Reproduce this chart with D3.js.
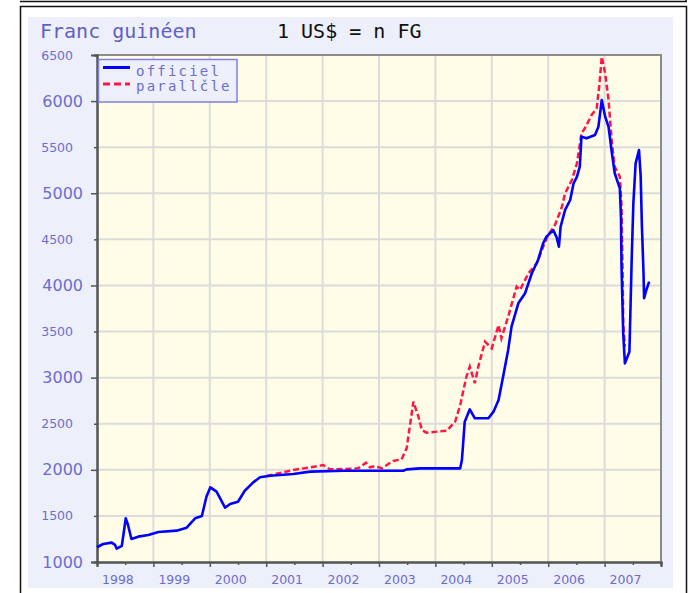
<!DOCTYPE html>
<html><head><meta charset="utf-8">
<script src="https://cdn.jsdelivr.net/npm/d3@7"></script>
<style>body{margin:0;background:#fff;}svg{display:block;}</style>
</head><body>
<svg id="c" width="690" height="593"></svg>
<script>
const offYears=[1998.00,1998.11,1998.26,1998.32,1998.35,1998.44,1998.51,1998.55,1998.61,1998.73,1998.91,1999.09,1999.41,1999.59,1999.74,1999.86,1999.94,2000.01,2000.12,2000.27,2000.36,2000.50,2000.62,2000.77,2000.89,2001.07,2001.48,2001.78,2002.37,2003.43,2003.49,2003.73,2004.44,2004.47,2004.49,2004.52,2004.61,2004.70,2004.94,2005.03,2005.12,2005.20,2005.29,2005.35,2005.47,2005.59,2005.71,2005.82,2005.91,2005.97,2006.09,2006.15,2006.19,2006.22,2006.30,2006.39,2006.45,2006.51,2006.56,2006.59,2006.68,2006.83,2006.89,2006.95,2007.01,2007.07,2007.13,2007.18,2007.24,2007.27,2007.29,2007.30,2007.33,2007.36,2007.44,2007.48,2007.51,2007.55,2007.61,2007.64,2007.66,2007.69,2007.70,2007.74,2007.79];
const offValues=[1160,1195,1210,1185,1145,1174,1474,1401,1250,1275,1293,1325,1340,1372,1474,1499,1708,1810,1763,1589,1629,1654,1773,1864,1920,1936,1955,1980,1990,1990,2005,2016,2016,2106,2269,2522,2656,2559,2559,2631,2757,3010,3300,3553,3806,3915,4132,4276,4457,4529,4600,4520,4420,4637,4819,4927,5108,5180,5288,5614,5596,5632,5722,6012,5831,5722,5434,5217,5108,5054,4746,4203,3481,3155,3281,4276,4891,5325,5469,5180,4674,4132,3861,3951,4041];
const parYears=[2001.01,2001.48,2001.78,2002.01,2002.13,2002.37,2002.63,2002.77,2002.84,2002.93,2003.05,2003.25,2003.40,2003.49,2003.61,2003.70,2003.76,2003.84,2004.20,2004.35,2004.44,2004.55,2004.61,2004.70,2004.76,2004.88,2005.00,2005.12,2005.17,2005.29,2005.44,2005.50,2005.65,2005.80,2005.91,2006.00,2006.12,2006.24,2006.30,2006.42,2006.51,2006.59,2006.65,2006.77,2006.86,2006.91,2006.95,2007.01,2007.07,2007.13,2007.18,2007.27,2007.30,2007.32,2007.33,2007.36];
const parValues=[1933,1998,2027,2052,2006,2009,2016,2077,2027,2041,2016,2096,2114,2233,2739,2576,2432,2403,2424,2522,2703,3010,3119,2939,3119,3390,3318,3571,3427,3661,3987,3951,4132,4240,4420,4547,4656,4846,5000,5144,5325,5650,5705,5849,5922,6193,6482,6301,6012,5542,5288,5180,4855,4132,3589,3336];
const yearLabels=["1998","1999","2000","2001","2002","2003","2004","2005","2006","2007"];
const majorTicks=[1000,2000,3000,4000,5000,6000];
const minorTicks=[1500,2500,3500,4500,5500,6500];
const seriesNames=["officiel","parallčle"];
const titleLeft="Franc guinéen";
const titleRight="1 US$ = n FG";

const svg=d3.select("#c");
const L=97,R=661,T=55,B=562;
const x=d3.scaleLinear().domain([1998,2008]).range([L,R]);
const y=d3.scaleLinear().domain([1000,6500]).range([B,T]);
const blueTxt="#6c6cd0";

// frames
svg.append("line").attr("x1",20).attr("x2",687).attr("y1",1.5).attr("y2",1.5).attr("stroke","#111").attr("stroke-width",1.5);
svg.append("line").attr("x1",686).attr("x2",686).attr("y1",0).attr("y2",2).attr("stroke","#111").attr("stroke-width",1.5);
svg.append("rect").attr("x",20.5).attr("y",6.5).attr("width",666).attr("height",620).attr("fill","#fff").attr("stroke","#111").attr("stroke-width",1.5);
svg.append("rect").attr("x",28).attr("y",17).attr("width",645).attr("height",571).attr("fill","#edf0fb");

// title
svg.append("text").attr("x",40).attr("y",38).text(titleLeft).attr("font-family","DejaVu Sans Mono").attr("font-size",20).attr("fill","#5f5fc4");
svg.append("text").attr("x",277).attr("y",38).text(titleRight).attr("font-family","DejaVu Sans Mono").attr("font-size",20).attr("fill","#111");

// plot bg
svg.append("rect").attr("x",L).attr("y",T).attr("width",R-L).attr("height",B-T).attr("fill","#fffde8");

// grid
const g=svg.append("g");
g.selectAll(".gx").data(d3.range(1999,2008)).join("line").attr("x1",d=>x(d)).attr("x2",d=>x(d)).attr("y1",T).attr("y2",B).attr("stroke","#dcdcdc").attr("stroke-width",2);
g.selectAll(".gy").data(majorTicks.concat(minorTicks).filter(v=>v>1000&&v<6500)).join("line").attr("y1",d=>y(d)).attr("y2",d=>y(d)).attr("x1",L).attr("x2",R).attr("stroke","#dcdcdc").attr("stroke-width",2);

// border top/right
svg.append("path").attr("d",`M${L},${T}H${R}V${B}`).attr("fill","none").attr("stroke","#8c8c8c").attr("stroke-width",2);

// axes
const axMaj=svg.append("g").attr("transform",`translate(${L},0)`).call(d3.axisLeft(y).tickValues(majorTicks).tickSize(6).tickPadding(8).tickFormat(d3.format("d")));
axMaj.selectAll("text").attr("font-family","DejaVu Sans").attr("font-size",16).attr("fill",blueTxt);
const axMin=svg.append("g").attr("transform",`translate(${L},0)`).call(d3.axisLeft(y).tickValues(minorTicks).tickSize(3).tickPadding(21).tickFormat(d3.format("d")));
axMin.selectAll("text").attr("font-family","DejaVu Sans").attr("font-size",12.5).attr("fill",blueTxt);
[axMaj,axMin].forEach(a=>{a.select(".domain").attr("stroke","#555").attr("stroke-width",2);a.selectAll(".tick line").attr("stroke","#555").attr("stroke-width",1.5);});

const axX=svg.append("g").attr("transform",`translate(0,${B})`).call(d3.axisBottom(x).tickValues(d3.range(1998,2009)).tickSize(5).tickFormat(""));
const axX2=svg.append("g").attr("transform",`translate(0,${B})`).call(d3.axisBottom(x).tickValues(d3.range(1998.5,2008,1)).tickSize(3).tickFormat(""));
[axX,axX2].forEach(a=>{a.select(".domain").attr("stroke","#555").attr("stroke-width",2);a.selectAll(".tick line").attr("stroke","#555").attr("stroke-width",1.5);});
svg.selectAll(".xl").data(yearLabels).join("text").attr("x",d=>x(+d)+5).attr("y",584).text(d=>d).attr("font-family","DejaVu Sans").attr("font-size",12.5).attr("fill",blueTxt);

// lines
const lineGen=d3.line().x(d=>x(d[0])).y(d=>y(d[1]));
svg.append("clipPath").attr("id","pc").append("rect").attr("x",L).attr("y",T-3).attr("width",R-L).attr("height",B-T+3);
svg.append("path").datum(parYears.map((v,i)=>[v,parValues[i]])).attr("d",lineGen).attr("fill","none").attr("stroke","#ff1744").attr("stroke-width",2.5).attr("stroke-dasharray","6,3").attr("clip-path","url(#pc)");
svg.append("path").datum(offYears.map((v,i)=>[v,offValues[i]])).attr("d",lineGen).attr("fill","none").attr("stroke","#0000ff").attr("stroke-width",2.6).attr("stroke-linejoin","round");

// legend
const lg=svg.append("g");
lg.append("rect").attr("x",98.5).attr("y",59.5).attr("width",138.5).attr("height",42.5).attr("fill","#edf0fb").attr("stroke","#8080dd").attr("stroke-width",1.5);
lg.append("line").attr("x1",103).attr("x2",130).attr("y1",67.5).attr("y2",67.5).attr("stroke","#0000ff").attr("stroke-width",3);
lg.append("line").attr("x1",103).attr("x2",130).attr("y1",84).attr("y2",84).attr("stroke","#ff1744").attr("stroke-width",3).attr("stroke-dasharray","7,4");
lg.selectAll(".lt").data(seriesNames).join("text").attr("x",136).attr("y",(d,i)=>76+i*15).text(d=>d).attr("font-family","DejaVu Sans Mono").attr("font-size",14).attr("letter-spacing",2.2).attr("fill","#6c6cd0");
</script>
</body></html>
